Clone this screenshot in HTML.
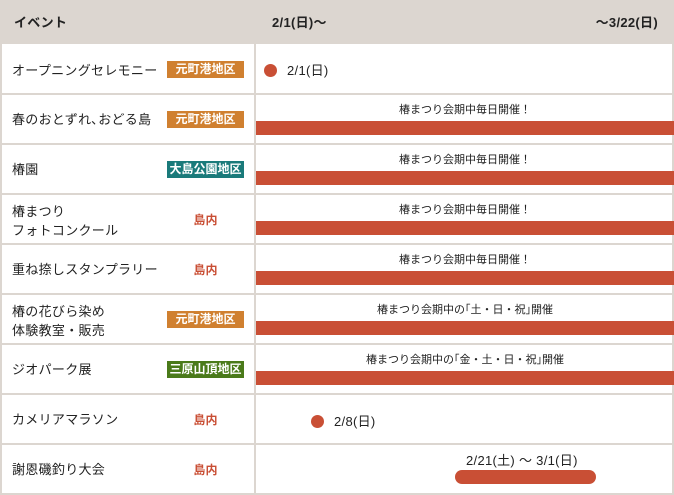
<!DOCTYPE html>
<html><head><meta charset="utf-8"><style>
*{margin:0;padding:0;box-sizing:border-box}
body{width:674px;height:495px;background:#fff;position:relative;overflow:hidden;font-family:"Liberation Sans","Noto Sans CJK JP",sans-serif;color:#222}
.a{position:absolute}
.hd{left:0;top:0;width:674px;height:44px;background:#dcd6d0}
.hl{height:2px;background:#dcd6d0;left:0;width:674px}
.vl{width:2px;background:#dcd6d0;top:0;height:495px}
.t{font-size:13px;white-space:nowrap;letter-spacing:0.3px;line-height:16px}
.tag{left:167px;width:77px;height:17px;color:#fff;font-size:12px;font-weight:bold;text-align:center;line-height:17px}
.sm{font-size:11px;width:418px;left:256px;text-align:center;white-space:nowrap}
.bar{left:256px;width:418px;height:14px;background:#c94f35}
.dot{width:13px;height:13px;border-radius:50%;background:#c94f35}
.in{left:167px;width:77px;text-align:center;color:#c94f35;font-size:12px;font-weight:bold}
</style></head><body>
<div class="a hd"></div>
<div class="a vl" style="left:0"></div>
<div class="a vl" style="left:254px"></div>
<div class="a vl" style="left:672px"></div>
<div class="a hl" style="top:93px"></div>
<div class="a hl" style="top:143px"></div>
<div class="a hl" style="top:193px"></div>
<div class="a hl" style="top:243px"></div>
<div class="a hl" style="top:293px"></div>
<div class="a hl" style="top:343px"></div>
<div class="a hl" style="top:393px"></div>
<div class="a hl" style="top:443px"></div>
<div class="a hl" style="top:493px"></div>
<div class="a t" style="left:14px;top:15px;font-weight:bold">イベント</div>
<div class="a t" style="left:272px;top:15px;font-weight:bold">2/1(日)〜</div>
<div class="a t" style="right:16px;top:15px;font-weight:bold">〜3/22(日)</div>

<div class="a t" style="left:12px;top:63px">オープニングセレモニー</div>
<div class="a tag" style="top:61px;background:#d08030">元町港地区</div>
<div class="a dot" style="left:264px;top:64px"></div>
<div class="a t" style="left:287px;top:63px">2/1(日)</div>

<div class="a t" style="left:12px;top:112px">春のおとずれ､おどる島</div>
<div class="a tag" style="top:111px;background:#d08030">元町港地区</div>
<div class="a sm" style="top:101px">椿まつり会期中毎日開催！</div>
<div class="a bar" style="top:121px"></div>

<div class="a t" style="left:12px;top:162px">椿園</div>
<div class="a tag" style="top:161px;background:#1a7a7a">大島公園地区</div>
<div class="a sm" style="top:151px">椿まつり会期中毎日開催！</div>
<div class="a bar" style="top:171px"></div>

<div class="a t" style="left:12px;top:202px;line-height:19px">椿まつり<br>フォトコンクール</div>
<div class="a in" style="top:211px">島内</div>
<div class="a sm" style="top:201px">椿まつり会期中毎日開催！</div>
<div class="a bar" style="top:221px"></div>

<div class="a t" style="left:12px;top:262px">重ね捺しスタンプラリー</div>
<div class="a in" style="top:261px">島内</div>
<div class="a sm" style="top:251px">椿まつり会期中毎日開催！</div>
<div class="a bar" style="top:271px"></div>

<div class="a t" style="left:12px;top:302px;line-height:19px">椿の花びら染め<br>体験教室・販売</div>
<div class="a tag" style="top:311px;background:#d08030">元町港地区</div>
<div class="a sm" style="top:301px">椿まつり会期中の｢土・日・祝｣開催</div>
<div class="a bar" style="top:321px"></div>

<div class="a t" style="left:12px;top:362px">ジオパーク展</div>
<div class="a tag" style="top:361px;background:#4a7a1a">三原山頂地区</div>
<div class="a sm" style="top:351px">椿まつり会期中の｢金・土・日・祝｣開催</div>
<div class="a bar" style="top:371px"></div>

<div class="a t" style="left:12px;top:412px">カメリアマラソン</div>
<div class="a in" style="top:411px">島内</div>
<div class="a dot" style="left:311px;top:415px"></div>
<div class="a t" style="left:334px;top:414px">2/8(日)</div>

<div class="a t" style="left:12px;top:462px">謝恩磯釣り大会</div>
<div class="a in" style="top:461px">島内</div>
<div class="a t" style="left:466px;top:453px">2/21(土) 〜 3/1(日)</div>
<div class="a" style="left:455px;top:470px;width:141px;height:14px;border-radius:7px;background:#c94f35"></div>
</body></html>
